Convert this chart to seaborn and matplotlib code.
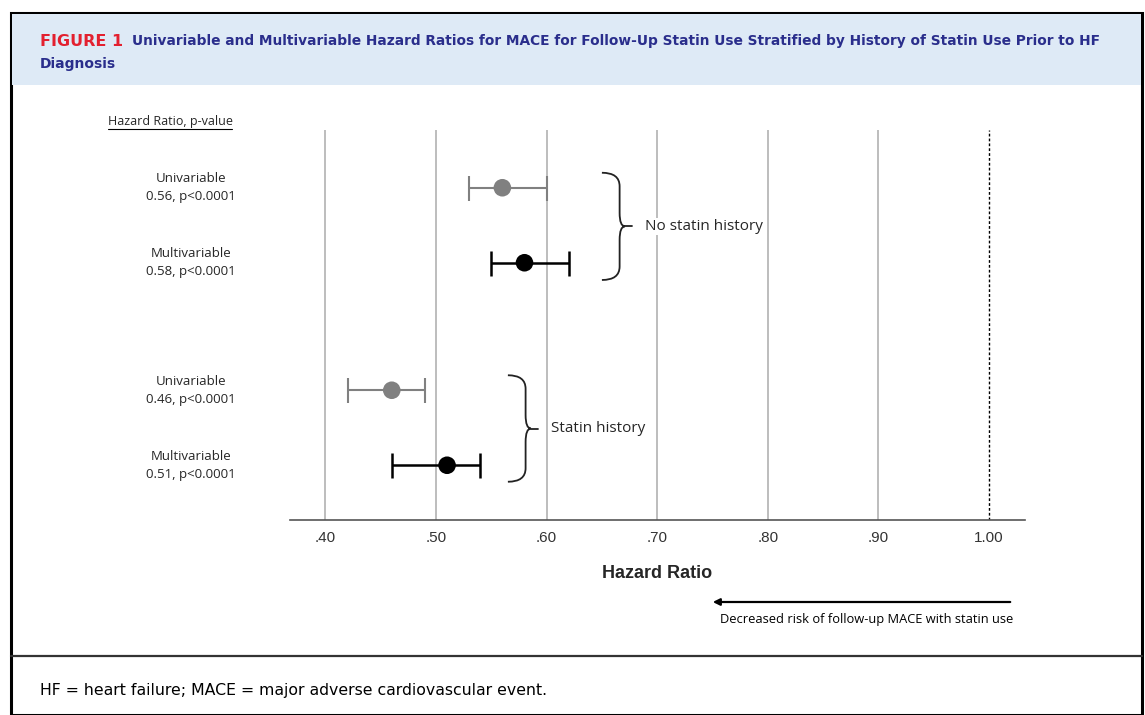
import numpy as np
import pandas as pd
import matplotlib
matplotlib.use("Agg")
import matplotlib.pyplot as plt
from matplotlib.path import Path
from matplotlib.patches import PathPatch, Rectangle
import seaborn as sns

# data
groups = ["No statin history", "No statin history", "Statin history", "Statin history"]
models = ["Univariable", "Multivariable", "Univariable", "Multivariable"]
hr = [0.56, 0.58, 0.46, 0.51]
ci_low = [0.53, 0.55, 0.42, 0.46]
ci_high = [0.60, 0.62, 0.49, 0.54]
pvals = ["p<0.0001", "p<0.0001", "p<0.0001", "p<0.0001"]
row_pos = [0, 1, 2.7, 3.7]
xticks = [0.40, 0.50, 0.60, 0.70, 0.80, 0.90, 1.00]
xtick_labels = [".40", ".50", ".60", ".70", ".80", ".90", "1.00"]

df = pd.DataFrame({"group": groups, "model": models, "hr": hr,
                   "lo": ci_low, "hi": ci_high, "row": row_pos})

sns.set_style("white")
plt.rcParams['font.family'] = ['Open Sans', 'DejaVu Sans']

plain_font = ['DejaVu Sans']
note_font = ['Open Sans', 'DejaVu Sans']

fig = plt.figure(figsize=(11.45, 7.15), dpi=100)

# frame, header band, caption separator
fig.patches.append(Rectangle((11/1145, 0), 1131/1145, 1 - 13/715, transform=fig.transFigure,
                             fill=False, edgecolor="black", linewidth=2.2, zorder=0))
fig.patches.append(Rectangle((12/1145, 1 - 85/715), 1129/1145, 71/715, transform=fig.transFigure,
                             facecolor="#deeaf6", edgecolor="none", zorder=0))
fig.lines.append(plt.Line2D([11/1145, 1142/1145], [1 - 656/715] * 2, transform=fig.transFigure,
                            color="#333333", linewidth=1.6))


def fit_text(x, y, s, width_px, size, family, **kw):
    # scale the font so the line spans the width it has in the reference
    t = fig.text(x, y, s, fontsize=size, family=family, va="center", **kw)
    r = fig.canvas.get_renderer()
    w = t.get_window_extent(renderer=r).width
    t.set_fontsize(size * width_px / w)
    return t


fit_text(40/1145, 1 - 41/715, "FIGURE 1", 83, 10, plain_font, color="#e3202f", fontweight="bold")
fit_text(132/1145, 1 - 41/715,
         "Univariable and Multivariable Hazard Ratios for MACE for Follow-Up Statin Use Stratified by History of Statin Use Prior to HF",
         973, 10, plain_font, color="#2a2e8c", fontweight="bold")
fit_text(40/1145, 1 - 64/715, "Diagnosis", 76, 10, plain_font, color="#2a2e8c", fontweight="bold")
fit_text(40/1145, 1 - 690/715, "HF = heart failure; MACE = major adverse cardiovascular event.",
         508, 11, plain_font, color="black")

ax = fig.add_axes([290/1145, 1 - 520/715, 735/1145, 390/715])

colors = {"Univariable": "#808080", "Multivariable": "black"}
for _, r in df.iterrows():
    c = colors[r["model"]]
    lw = 1.5 if r["model"] == "Univariable" else 1.8
    ax.errorbar(r["hr"], r["row"], xerr=[[r["hr"] - r["lo"]], [r["hi"] - r["hr"]]],
                fmt="none", ecolor=c, elinewidth=lw, capsize=9, capthick=lw, zorder=3)
sns.scatterplot(data=df, x="hr", y="row", hue="model", palette=colors, s=160,
                edgecolor="none", legend=False, ax=ax, zorder=4)

for x in xticks[:-1]:
    ax.axvline(x, color="#bdbdbd", linewidth=1.4, zorder=1)
ax.axvline(1.0, color="black", linewidth=1, linestyle=(0, (2, 1.5)), zorder=1)

ax.set_xlim(0.368, 1.0325)
ax.set_ylim(4.43, -0.77)
ax.set_xticks(xticks)
ax.set_xticklabels(xtick_labels, family=['Liberation Sans', 'DejaVu Sans'], fontsize=11, color="#333333")
ax.tick_params(axis="x", length=0, pad=8)
ax.set_yticks([])
ax.set_xlabel("Hazard Ratio", family=['Liberation Sans', 'DejaVu Sans'], fontsize=13,
              fontweight="bold", labelpad=14)
ax.set_ylabel("")
for s in ["top", "left", "right"]:
    ax.spines[s].set_visible(False)
ax.spines["bottom"].set_color("#555555")
ax.spines["bottom"].set_linewidth(1.2)

# row labels on the left
for i, r in df.iterrows():
    ax.annotate(f"{r['model']}\n{r['hr']:.2f}, {pvals[i]}", xy=(191/1145, r["row"]),
                xycoords=("figure fraction", "data"), ha="center", va="center",
                fontsize=9.5, linespacing=1.5)
fig.text(170/1145, 1 - 122/715, "Hazard Ratio, p-value", ha="center", va="center", fontsize=9)
fig.lines.append(plt.Line2D([108/1145, 232/1145], [1 - 129/715] * 2, transform=fig.transFigure,
                            color="black", linewidth=0.8))


def brace(ax, x0, x1, xt, ytop, ybot, label):
    ym = (ytop + ybot) / 2
    r = 0.18
    verts = [(x0, ytop), (x1, ytop), (x1, ytop + r),
             (x1, ym - r),
             (x1, ym), (x1 + (x1 - x0) * 0.3, ym),
             (x1, ym), (x1, ym + r),
             (x1, ybot - r),
             (x1, ybot), (x0, ybot)]
    codes = [Path.MOVETO, Path.CURVE3, Path.CURVE3, Path.LINETO,
             Path.CURVE3, Path.CURVE3, Path.CURVE3, Path.CURVE3,
             Path.LINETO, Path.CURVE3, Path.CURVE3]
    ax.add_patch(PathPatch(Path(verts, codes), fill=False, edgecolor="#222222", linewidth=1.3, zorder=3))
    ax.plot([x1 + (x1 - x0) * 0.3, xt], [ym, ym], color="#222222", linewidth=1.3, zorder=3)
    ax.text(xt + 0.012, ym, label, va="center", ha="left", fontsize=11,
            bbox=dict(facecolor="white", edgecolor="none", pad=0.5), zorder=4)


brace(ax, 0.650, 0.666, 0.677, -0.2, 1.23, "No statin history")
brace(ax, 0.565, 0.581, 0.592, 2.5, 3.92, "Statin history")

# arrow below the axis
ax.annotate("", xy=(710/1145, 1 - 602/715), xytext=(1013/1145, 1 - 602/715),
            xycoords="figure fraction",
            arrowprops=dict(arrowstyle="-|>", color="black", lw=1.6, mutation_scale=10))
fit_text(1013/1145, 1 - 619/715, "Decreased risk of follow-up MACE with statin use", 295, 9,
         note_font, ha="right", color="black")

fig.savefig("out.png", dpi=100)
